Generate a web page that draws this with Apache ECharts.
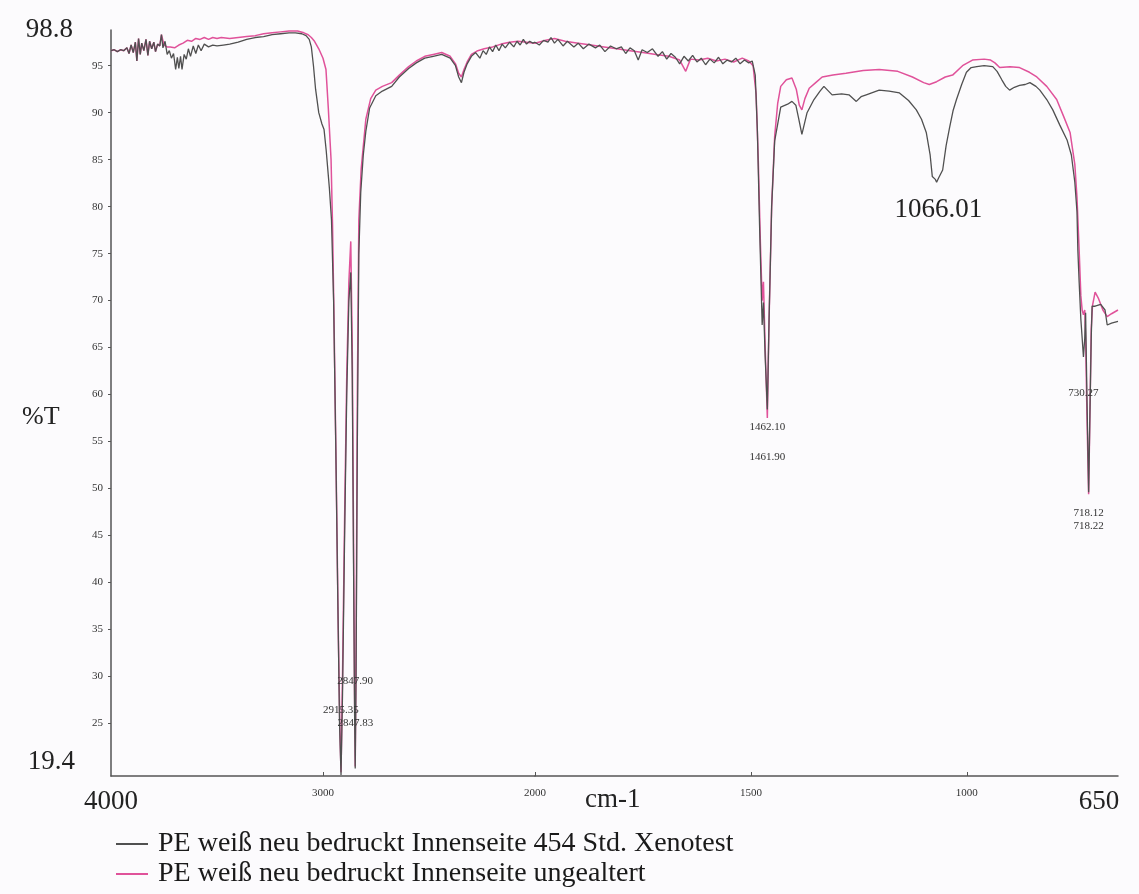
<!DOCTYPE html>
<html>
<head>
<meta charset="utf-8">
<script src="https://cdn.jsdelivr.net/npm/echarts@6/dist/echarts.min.js"></script>
<style>
  html, body { margin: 0; padding: 0; background: #fcfbfd; }
  #ir { width: 1139px; height: 894px; }
</style>
</head>
<body>
<div id="ir"></div>
<script>
// ---------------------------------------------- Daten
var nameAged = 'PE weiß neu bedruckt Innenseite 454 Std. Xenotest';
var nameNew = 'PE weiß neu bedruckt Innenseite ungealtert';

// 454 Std. Xenotest (dunkel)
var agedWn = [4000, 3985, 3970, 3955, 3940, 3925, 3915, 3905, 3895, 3885, 3878, 3870, 3862, 3855, 3845, 3835, 3826, 3818, 3808, 3798,
  3790, 3780, 3770, 3762, 3755, 3745, 3735, 3725, 3715, 3705, 3695, 3687, 3680, 3672, 3665, 3655, 3645, 3635, 3625, 3612,
  3600, 3588, 3575, 3560, 3540, 3520, 3500, 3470, 3440, 3400, 3360, 3320, 3280, 3240, 3200, 3160, 3130, 3100, 3080, 3065,
  3055, 3045, 3035, 3020, 3005, 2995, 2985, 2970, 2960, 2950, 2940, 2930, 2922, 2915, 2908, 2898, 2888, 2878, 2869, 2862,
  2856, 2851, 2848, 2844, 2838, 2831, 2822, 2810, 2798, 2780, 2751, 2720, 2676, 2640, 2596, 2560, 2520, 2480, 2440, 2400,
  2375, 2360, 2347, 2335, 2320, 2300, 2280, 2260, 2245, 2230, 2215, 2200, 2185, 2170, 2155, 2140, 2120, 2100, 2085, 2070,
  2055, 2040, 2025, 2010, 2000,
  1990, 1980, 1970, 1963, 1955, 1947, 1935, 1925, 1910, 1900, 1888, 1875, 1860, 1850, 1838, 1825, 1812, 1800, 1790, 1780,
  1770, 1761, 1752, 1740, 1728, 1715, 1705, 1695, 1685, 1675, 1665, 1655, 1645, 1635, 1625, 1615, 1605, 1595, 1585, 1575,
  1565, 1555, 1545, 1535, 1525, 1515, 1505, 1497, 1490, 1485, 1480, 1474, 1471, 1467, 1462, 1458, 1452, 1445, 1431, 1415,
  1405, 1396, 1390, 1382, 1370, 1354, 1340, 1331, 1312, 1290, 1273, 1256, 1245, 1233, 1203, 1180, 1156, 1135, 1117, 1105,
  1094, 1085, 1080, 1073, 1070, 1066, 1062, 1056, 1048, 1040, 1032, 1024, 1012, 1001, 990, 977, 960, 940, 930, 919,
  910, 901, 890, 878, 865, 854, 840, 831, 815, 801, 785, 768, 758, 750, 745, 743, 740, 736, 733, 730,
  727, 725, 722, 718, 715, 712, 710, 703, 690, 680, 675, 665, 650];
var agedT = [96.6, 96.7, 96.5, 96.7, 96.6, 96.9, 96.3, 97.2, 96.4, 97.5, 95.5, 97.9, 96.2, 97.4, 96.6, 97.8, 96.1, 97.6, 96.8, 97.5,
  96.5, 97.3, 97.1, 98.3, 96.9, 97.6, 96.2, 96.6, 95.8, 96.3, 94.6, 95.9, 94.7, 96.0, 94.6, 96.2, 95.7, 96.8, 96.0, 97.1,
  96.3, 97.2, 96.6, 97.3, 97.0, 97.2, 97.1, 97.2, 97.3, 97.5, 97.8, 98.0, 98.1, 98.3, 98.4, 98.5, 98.5, 98.4, 98.2, 97.8,
  97.0, 95.0, 92.5, 90.0, 88.8, 88.2, 86.0, 82.0, 78.6, 70.0, 55.0, 38.0, 25.0, 19.5, 28.0, 45.0, 60.0, 70.0, 73.0, 62.0,
  42.0, 26.0, 20.2, 30.0, 55.0, 75.0, 81.5, 85.5, 88.0, 90.5, 91.8, 92.3, 92.8, 93.8, 94.7, 95.3, 95.8, 96.0, 96.2, 95.8,
  95.0, 93.8, 93.2, 94.3, 95.2, 96.0, 96.4, 95.8, 96.6, 96.2, 97.0, 96.5, 97.2, 96.6, 97.3, 96.9, 97.5, 97.0, 97.6, 97.2,
  97.8, 97.3, 97.6, 97.4, 97.5,
  97.2, 97.7, 97.5, 98.0, 97.4, 97.8, 97.1, 97.6, 97.0, 97.4, 96.8, 97.3, 96.9, 97.2, 96.5, 97.1, 96.8, 97.0, 96.3, 96.9,
  96.6, 95.6, 96.7, 96.4, 96.8, 96.0, 96.5, 95.7, 96.3, 95.9, 95.2, 96.0, 95.5, 96.1, 95.4, 95.8, 95.1, 95.7, 95.3, 95.9,
  95.2, 95.6, 95.4, 95.8, 95.2, 95.6, 95.3, 95.5, 94.0, 88.0, 78.0, 67.4, 69.8, 64.0, 58.4, 68.0, 80.0, 87.0, 90.6, 90.9,
  91.2, 90.8, 89.5, 87.7, 90.0, 91.4, 92.3, 92.8, 91.9, 92.0, 91.9, 91.2, 91.7, 91.9, 92.4, 92.3, 92.1, 91.3, 90.3, 89.3,
  87.9, 85.5, 83.2, 82.9, 82.6, 83.0, 82.8, 83.9, 86.5, 88.4, 90.2, 91.4, 93.0, 94.3, 94.8, 94.9, 95.0, 94.9, 94.4, 93.5,
  92.8, 92.4, 92.7, 92.9, 93.0, 93.2, 92.8, 92.4, 91.4, 90.3, 88.7, 87.1, 85.5, 82.6, 79.5, 75.4, 72.0, 68.0, 66.0, 64.0,
  66.0, 68.7, 60.0, 49.6, 58.0, 66.0, 69.4, 69.4, 69.6, 69.0, 67.4, 67.6, 67.8];

// ungealtert (pink)
var newWn = [4000, 3985, 3970, 3955, 3940, 3925, 3915, 3905, 3895, 3885, 3878, 3870, 3862, 3855, 3845, 3835, 3826, 3818, 3808, 3798,
  3790, 3780, 3770, 3762, 3750, 3735, 3720, 3700, 3680, 3660, 3640, 3620, 3600, 3580, 3560, 3540, 3520, 3500, 3480, 3440,
  3400, 3360, 3320, 3280, 3240, 3200, 3160, 3120, 3090, 3070, 3055, 3040, 3020, 3000, 2986, 2975, 2962, 2955, 2948, 2938,
  2928, 2920, 2915, 2908, 2898, 2888, 2878, 2869, 2862, 2856, 2851, 2848, 2844, 2838, 2831, 2820, 2798, 2775, 2751, 2720,
  2676, 2640, 2596, 2560, 2520, 2480, 2440, 2400, 2375, 2360, 2347, 2335, 2320, 2300, 2270, 2240, 2200, 2160, 2120, 2080,
  2040, 2000,
  1975, 1955, 1930, 1900, 1870, 1840, 1810, 1780, 1750, 1720, 1690, 1665, 1651, 1640, 1620, 1600, 1580, 1560, 1540, 1520,
  1505, 1495, 1488, 1483, 1478, 1474, 1471, 1467, 1462, 1458, 1452, 1445, 1438, 1431, 1418, 1405, 1395, 1388, 1382, 1375,
  1365, 1350, 1335, 1310, 1280, 1240, 1203, 1160, 1126, 1100, 1087, 1070, 1050, 1033, 1010, 987, 960, 945, 935, 924,
  900, 878, 855, 838, 815, 792, 775, 761, 750, 745, 740, 736, 733, 730, 727, 725, 722, 718, 715, 712,
  709, 703, 695, 685, 675, 665, 650];
var newT = [96.6, 96.7, 96.5, 96.7, 96.6, 96.9, 96.3, 97.2, 96.4, 97.5, 95.5, 97.9, 96.2, 97.4, 96.6, 97.8, 96.1, 97.6, 96.8, 97.5,
  96.5, 97.3, 97.1, 98.3, 97.2, 97.0, 97.0, 96.9, 97.2, 97.4, 97.7, 97.6, 97.9, 97.8, 98.0, 97.8, 98.0, 97.9, 98.0, 97.9,
  98.0, 98.1, 98.2, 98.4, 98.5, 98.6, 98.7, 98.7, 98.5, 98.3, 98.0, 97.6, 96.8, 95.8, 94.6, 90.5, 85.0, 78.0, 68.0, 52.0,
  35.0, 24.0, 19.8, 30.0, 47.0, 62.0, 72.0, 76.3, 65.0, 45.0, 28.0, 20.4, 33.0, 60.0, 78.6, 84.0, 89.3, 91.5, 92.4, 92.8,
  93.2, 94.0, 94.9, 95.5, 96.0, 96.2, 96.4, 96.0, 95.2, 94.2, 93.8, 94.6, 95.4, 96.2, 96.6, 96.8, 97.0, 97.3, 97.5, 97.6,
  97.5, 97.4,
  97.7, 97.9, 97.6, 97.4, 97.2, 97.0, 96.8, 96.6, 96.4, 96.2, 96.0, 95.6, 94.4, 95.7, 95.6, 95.8, 95.5, 95.7, 95.4, 95.8,
  95.5, 95.0, 92.0, 85.0, 76.0, 70.0, 72.0, 65.0, 57.5, 68.0, 80.0, 87.5, 91.0, 92.8, 93.5, 93.7, 92.5, 90.8, 90.3, 91.5,
  92.6, 93.2, 93.8, 94.0, 94.2, 94.5, 94.6, 94.4, 93.8, 93.2, 93.0, 93.3, 93.8, 94.0, 95.0, 95.6, 95.7, 95.6, 95.3, 94.8,
  94.9, 94.8, 94.3, 93.8, 92.8, 91.4, 89.5, 87.9, 84.5, 81.0, 75.4, 70.5, 69.0, 68.5, 69.0, 66.0, 58.0, 49.4, 58.0, 67.0,
  69.5, 70.9, 70.2, 69.0, 68.3, 68.6, 69.0];

// Achsenbeschriftung
var yTickLabels = [19.4, 25, 30, 35, 40, 45, 50, 55, 60, 65, 70, 75, 80, 85, 90, 95, 98.8];
var yTickMarks = [25, 30, 35, 40, 45, 50, 55, 60, 65, 70, 75, 80, 85, 90, 95];
var xLabelsHigh = [4000, 3000, 2000];
var xLabelsLow = [1500, 1000, 650];

// ---------------------------------------------- Hilfen
// Spektrum bei 2000 cm-1 aufteilen (Skalenwechsel)
function part(wn, t, hi) {
    var out = [];
    for (var i = 0; i < wn.length; i++) {
        if (hi ? wn[i] >= 2000 : wn[i] <= 2000) out.push([wn[i], t[i]]);
    }
    return out;
}

var serif = 'Liberation Serif';
var axisColor = '#555';
var darkColor = '#505050';
var pinkColor = '#e0529a';

// Endwerte gross, Rest klein
function fmt(v) {
    if (v === 98.8) return '{top|98.8}';
    if (v === 19.4) return '{bottom|19.4}';
    if (v === 4000) return '{big|4000}';
    if (v === 650) return '{right|650}';
    return String(v);
}

var rich = {
    top: { fontFamily: serif, fontSize: 27, color: '#222', padding: [0, 30, 0, 0] },
    bottom: { fontFamily: serif, fontSize: 27, color: '#222', padding: [0, 28, 28, 0] },
    big: { fontFamily: serif, fontSize: 27, color: '#222' },
    right: { fontFamily: serif, fontSize: 27, color: '#222', padding: [0, 38, 0, 0] }
};

function xAxisCfg(gi, min, max, labels, ticks) {
    return {
        gridIndex: gi, type: 'value', min: min, max: max, inverse: true,
        axisLine: { show: true, lineStyle: { color: axisColor, width: 1.5 } },
        axisTick: { show: true, inside: true, length: 4, customValues: ticks, lineStyle: { color: axisColor } },
        axisLabel: { customValues: labels, formatter: fmt, rich: rich, margin: 12,
            fontFamily: serif, fontSize: 11, color: '#333' },
        splitLine: { show: false }
    };
}

// ---------------------------------------------- Diagramm
var chart = echarts.init(document.getElementById('ir'));
var grids = [
    { left: 111, top: 30, width: 424, height: 746 },
    { left: 535, top: 30, width: 583, height: 746 }
];

var lblStyle = { show: true, position: 'inside', formatter: '{b}', fontFamily: serif, fontSize: 11, color: '#333' };

var option = {
    backgroundColor: '#fcfbfd',
    animation: false,
    grid: grids,
    xAxis: [
        xAxisCfg(0, 2000, 4000, xLabelsHigh, [3000, 2000]),
        xAxisCfg(1, 650, 2000, xLabelsLow, [1500, 1000])
    ],
    yAxis: [
        {
            gridIndex: 0, type: 'value', min: 19.4, max: 98.8,
            axisLine: { show: true, lineStyle: { color: axisColor, width: 1.5 } },
            axisTick: { show: true, length: 3, customValues: yTickMarks, lineStyle: { color: axisColor } },
            axisLabel: { customValues: yTickLabels, formatter: fmt, rich: rich, margin: 8,
                fontFamily: serif, fontSize: 11, color: '#333' },
            splitLine: { show: false }
        },
        { gridIndex: 1, type: 'value', min: 19.4, max: 98.8, show: false }
    ],
    legend: {
        data: [nameAged, nameNew],
        orient: 'vertical', left: 111, top: 825, itemWidth: 32, itemHeight: 2, itemGap: 2, icon: 'rect',
        textStyle: { fontFamily: serif, fontSize: 28, color: '#1a1a1a', padding: [0, 0, 0, 5] }
    },
    graphic: [
        { type: 'text', left: 22, top: 404, style: { text: '%T', fontFamily: serif, fontSize: 26, fill: '#222' } },
        { type: 'text', left: 585, top: 786, style: { text: 'cm-1', fontFamily: serif, fontSize: 27, fill: '#222' } }
    ],
    series: [
        {
            name: nameNew, type: 'line', xAxisIndex: 0, yAxisIndex: 0, data: part(newWn, newT, true),
            showSymbol: false, symbol: 'none', z: 2,
            lineStyle: { color: pinkColor, width: 1.5 }, itemStyle: { color: pinkColor },
            markPoint: { symbol: 'circle', symbolSize: 0, label: lblStyle,
                data: [{ name: '2847.90', coord: [2847.9, 29.5] }] }
        },
        {
            name: nameNew, type: 'line', xAxisIndex: 1, yAxisIndex: 1, data: part(newWn, newT, false),
            showSymbol: false, symbol: 'none', z: 2,
            lineStyle: { color: pinkColor, width: 1.5 }, itemStyle: { color: pinkColor },
            markPoint: { symbol: 'circle', symbolSize: 0, label: lblStyle,
                data: [
                    { name: '1461.90', coord: [1461.9, 53.3] },
                    { name: '718.22', coord: [718.22, 46.0] }
                ] }
        },
        {
            name: nameAged, type: 'line', xAxisIndex: 0, yAxisIndex: 0, data: part(agedWn, agedT, true),
            showSymbol: false, symbol: 'none', z: 3,
            lineStyle: { color: darkColor, width: 1.3 }, itemStyle: { color: darkColor },
            markPoint: { symbol: 'circle', symbolSize: 0, label: lblStyle,
                data: [
                    { name: '2915.35', coord: [2915.35, 26.4] },
                    { name: '2847.83', coord: [2847.83, 25.0] }
                ] }
        },
        {
            name: nameAged, type: 'line', xAxisIndex: 1, yAxisIndex: 1, data: part(agedWn, agedT, false),
            showSymbol: false, symbol: 'none', z: 3,
            lineStyle: { color: darkColor, width: 1.3 }, itemStyle: { color: darkColor },
            markPoint: { symbol: 'circle', symbolSize: 0, label: lblStyle,
                data: [
                    { name: '1462.10', coord: [1462.1, 56.5] },
                    { name: '730.27', coord: [730.27, 60.1] },
                    { name: '718.12', coord: [718.12, 47.4] },
                    { name: '1066.01', coord: [1066.01, 79.6],
                      label: { fontSize: 27, color: '#222', fontFamily: serif } }
                ] }
        }
    ]
};
chart.setOption(option);
</script>
</body>
</html>
